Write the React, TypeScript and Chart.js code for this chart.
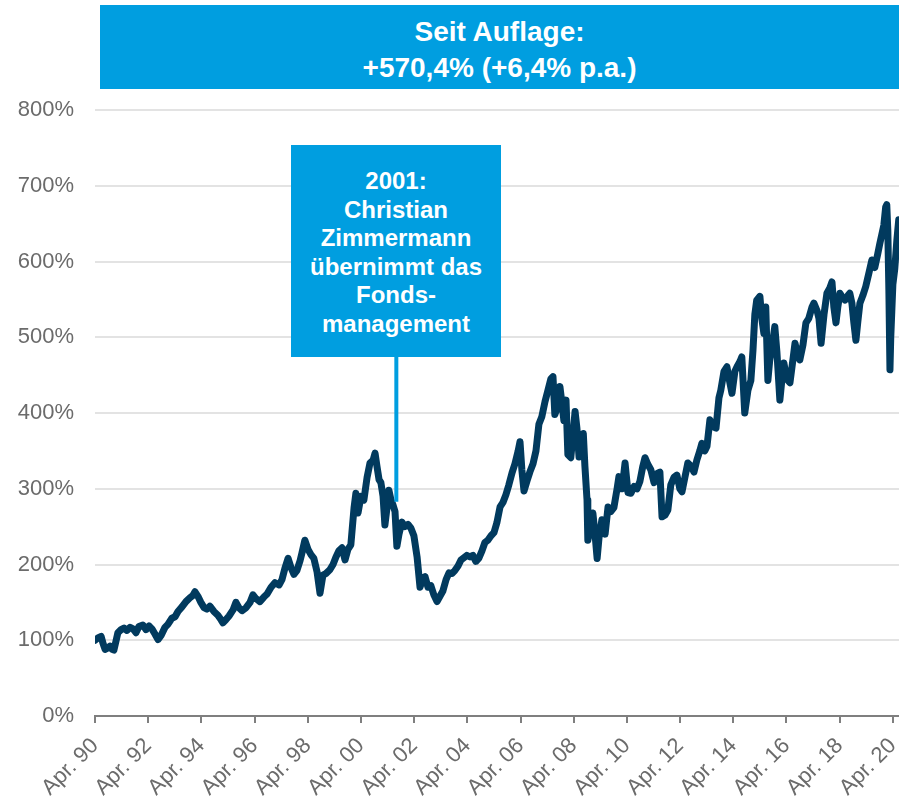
import React, { useEffect, useRef } from "react";
import { Chart, registerables } from "chart.js";

Chart.register(...registerables);

// Fund index (start = 100%), decimal years
const dates: number[] = [
  1990.25, 1990.36, 1990.48, 1990.55, 1990.63, 1990.74, 1990.81, 1990.89, 1990.96, 1991.04,
  1991.11, 1991.23, 1991.34, 1991.45, 1991.57, 1991.68, 1991.79, 1991.90, 1992.05, 1992.17,
  1992.28, 1992.39, 1992.51, 1992.62, 1992.73, 1992.88, 1992.99, 1993.14, 1993.26, 1993.37,
  1993.52, 1993.67, 1993.82, 1993.93, 1994.01, 1994.12, 1994.23, 1994.35, 1994.46, 1994.57,
  1994.72, 1994.87, 1994.99, 1995.06, 1995.17, 1995.29, 1995.44, 1995.55, 1995.66, 1995.78,
  1995.93, 1996.08, 1996.19, 1996.30, 1996.45, 1996.60, 1996.72, 1996.87, 1997.02, 1997.17,
  1997.28, 1997.39, 1997.51, 1997.62, 1997.73, 1997.84, 1997.96, 1998.03, 1998.14, 1998.26,
  1998.37, 1998.48, 1998.60, 1998.71, 1998.82, 1998.93, 1999.08, 1999.20, 1999.31, 1999.42,
  1999.54, 1999.65, 1999.76, 1999.87, 1999.99, 2000.06, 2000.14, 2000.25, 2000.36, 2000.48,
  2000.59, 2000.71, 2000.78, 2000.85, 2000.93, 2001.00, 2001.08, 2001.15, 2001.23, 2001.30,
  2001.38, 2001.45, 2001.53, 2001.60, 2001.68, 2001.79, 2001.90, 2002.02, 2002.13, 2002.24,
  2002.36, 2002.47, 2002.58, 2002.66, 2002.77, 2002.88, 2002.99, 2003.11, 2003.22, 2003.33,
  2003.45, 2003.56, 2003.67, 2003.78, 2003.90, 2004.01, 2004.12, 2004.23, 2004.35, 2004.46,
  2004.57, 2004.68, 2004.80, 2004.91, 2005.02, 2005.14, 2005.25, 2005.36, 2005.48, 2005.59,
  2005.70, 2005.81, 2005.93, 2006.04, 2006.16, 2006.23, 2006.30, 2006.38, 2006.49, 2006.60,
  2006.72, 2006.83, 2006.94, 2007.05, 2007.17, 2007.28, 2007.39, 2007.47, 2007.54, 2007.66,
  2007.73, 2007.81, 2007.88, 2007.96, 2008.03, 2008.14, 2008.22, 2008.30, 2008.37, 2008.45,
  2008.52, 2008.61, 2008.67, 2008.75, 2008.78, 2008.86, 2008.97, 2009.05, 2009.13, 2009.20,
  2009.31, 2009.43, 2009.54, 2009.65, 2009.76, 2009.88, 2009.95, 2010.07, 2010.18, 2010.29,
  2010.40, 2010.52, 2010.63, 2010.74, 2010.85, 2010.93, 2011.04, 2011.15, 2011.27, 2011.38,
  2011.49, 2011.57, 2011.68, 2011.79, 2011.90, 2012.02, 2012.13, 2012.24, 2012.32, 2012.43,
  2012.54, 2012.66, 2012.77, 2012.88, 2012.99, 2013.07, 2013.18, 2013.26, 2013.37, 2013.48,
  2013.60, 2013.71, 2013.78, 2013.90, 2014.01, 2014.12, 2014.20, 2014.31, 2014.39, 2014.50,
  2014.57, 2014.68, 2014.80, 2014.91, 2014.99, 2015.06, 2015.13, 2015.25, 2015.32, 2015.40,
  2015.47, 2015.55, 2015.62, 2015.74, 2015.81, 2015.89, 2016.00, 2016.08, 2016.15, 2016.26,
  2016.38, 2016.49, 2016.57, 2016.68, 2016.75, 2016.87, 2016.98, 2017.09, 2017.21, 2017.28,
  2017.40, 2017.47, 2017.55, 2017.66, 2017.77, 2017.88, 2017.96, 2018.03, 2018.11, 2018.18,
  2018.26, 2018.37, 2018.45, 2018.56, 2018.63, 2018.71, 2018.78, 2018.86, 2018.93, 2019.01,
  2019.12, 2019.23, 2019.35, 2019.46, 2019.57, 2019.68, 2019.76, 2019.83, 2019.91, 2019.98,
  2020.02, 2020.06, 2020.10, 2020.14, 2020.17, 2020.25, 2020.32, 2020.40, 2020.47,
];

const values: number[] = [
  100, 103, 105, 96, 88, 90, 92, 88, 87, 99,
  110, 114, 116, 113, 117, 115, 110, 118, 120, 114,
  119, 115, 108, 101, 106, 117, 121, 129, 131, 138,
  144, 151, 156, 159, 164, 158, 150, 143, 141, 145,
  138, 133, 127, 123, 127, 132, 140, 150, 143, 139,
  143, 150, 160, 155, 151, 157, 161, 170, 176, 173,
  180, 195, 208, 196, 187, 192, 205, 215, 232, 220,
  213, 208, 190, 162, 186, 188, 193, 200, 210, 218,
  222, 206, 220, 226, 275, 294, 268, 290, 285, 315,
  334, 338, 347, 330, 312, 308, 290, 252, 275, 298,
  285, 279, 270, 224, 240, 256, 250, 253, 248, 238,
  210, 170, 182, 184, 170, 172, 160, 151, 158, 165,
  180, 189, 188, 192, 198, 206, 209, 212, 210, 212,
  204, 208, 218, 229, 232, 238, 242, 255, 276, 282,
  292, 305, 321, 333, 350, 362, 325, 297, 310, 322,
  333, 350, 385, 395, 415, 430, 445, 448, 398, 410,
  435, 412, 390, 417, 345, 341, 370, 402, 380, 342,
  360, 373, 330, 285, 232, 245, 268, 240, 208, 235,
  259, 240, 276, 270, 275, 300, 316, 300, 334, 295,
  294, 303, 300, 310, 330, 341, 332, 325, 308, 320,
  322, 263, 265, 272, 305, 315, 318, 300, 296, 315,
  334, 330, 322, 338, 350, 360, 350, 356, 391, 382,
  380, 420, 430, 455, 461, 440, 426, 455, 461, 468,
  474, 400, 430, 443, 483, 530, 549, 554, 525, 505,
  540, 443, 470, 496, 514, 480, 417, 445, 466, 445,
  440, 470, 492, 475, 470, 490, 519, 525, 540, 545,
  535, 525, 492, 530, 558, 565, 573, 540, 519, 540,
  558, 552, 549, 555, 558, 545, 520, 496, 520, 545,
  555, 567, 585, 602, 592, 610, 624, 635, 648, 672,
  675, 640, 560, 457, 500, 570, 590, 628, 655,
];

const tickYears: number[] = [
  1990.25, 1992.25, 1994.25, 1996.25, 1998.25, 2000.25, 2002.25, 2004.25,
  2006.25, 2008.25, 2010.25, 2012.25, 2014.25, 2016.25, 2018.25, 2020.25,
];
const tickLabels: string[] = [
  "Apr. 90", "Apr. 92", "Apr. 94", "Apr. 96", "Apr. 98", "Apr. 00", "Apr. 02", "Apr. 04",
  "Apr. 06", "Apr. 08", "Apr. 10", "Apr. 12", "Apr. 14", "Apr. 16", "Apr. 18", "Apr. 20",
];

const titleLines: string[] = ["Seit Auflage:", "+570,4% (+6,4% p.a.)"];
const noteLines: string[] = ["2001:", "Christian", "Zimmermann", "übernimmt das", "Fonds-", "management"];
const noteYear = 2001.58;
const noteValue = 283;

const FONT = "'Liberation Sans', Arial, Helvetica, sans-serif";
const BLUE = "#009ee0";
const NAVY = "#013a5e";
const NOTE_BOTTOM = 357;

export default function App() {
  const canvasRef = useRef<HTMLCanvasElement | null>(null);

  useEffect(() => {
    if (!canvasRef.current) return;
    const connector = {
      id: "connector",
      afterDatasetsDraw(chart: any) {
        const { ctx, scales } = chart;
        const x = scales.x.getPixelForValue(noteYear);
        const y = scales.y.getPixelForValue(noteValue);
        ctx.save();
        ctx.strokeStyle = BLUE;
        ctx.lineWidth = 4;
        ctx.beginPath();
        ctx.moveTo(x, NOTE_BOTTOM);
        ctx.lineTo(x, y);
        ctx.stroke();
        ctx.restore();
      },
    };
    const chart = new Chart(canvasRef.current, {
      type: "line",
      data: {
        datasets: [
          {
            data: dates.map((d, i) => ({ x: d, y: values[i] })),
            borderColor: NAVY,
            borderWidth: 7,
            pointRadius: 0,
            tension: 0,
            borderJoinStyle: "round",
            borderCapStyle: "round",
            fill: false,
          },
        ],
      },
      options: {
        animation: false,
        responsive: true,
        maintainAspectRatio: false,
        layout: { padding: { top: 110, right: 0, left: 0, bottom: 0 } },
        plugins: { legend: { display: false }, tooltip: { enabled: false } },
        scales: {
          x: {
            type: "linear",
            min: 1990.25,
            max: 2020.48,
            afterBuildTicks: (scale: any) => {
              scale.ticks = tickYears.map((v) => ({ value: v }));
            },
            afterFit: (scale: any) => {
              scale.height = 87;
              scale.paddingLeft = 0;
              scale.paddingRight = 0;
            },
            ticks: {
              autoSkip: false,
              maxRotation: 45,
              minRotation: 45,
              padding: 10,
              color: "#6b6b6b",
              font: { family: FONT, size: 22 },
              callback: (v: any) => {
                const i = tickYears.findIndex((t) => Math.abs(t - Number(v)) < 0.01);
                return i >= 0 ? tickLabels[i] : "";
              },
            },
            grid: {
              drawOnChartArea: false,
              drawTicks: true,
              tickLength: 7,
              color: "#7f7f7f",
              lineWidth: 2,
            },
            border: { display: true, color: "#7f7f7f", width: 2 },
          },
          y: {
            min: 0,
            max: 800,
            afterFit: (scale: any) => {
              scale.width = 95;
              scale.paddingTop = 0;
              scale.paddingBottom = 0;
            },
            ticks: {
              stepSize: 100,
              padding: 21,
              color: "#6b6b6b",
              font: { family: FONT, size: 22 },
              callback: (v: any) => `${v}%`,
            },
            grid: { color: "#e3e3e3", lineWidth: 2, drawTicks: false },
            border: { display: false },
          },
        },
      },
      plugins: [connector],
    });
    return () => chart.destroy();
  }, []);

  return (
    <div style={{ position: "absolute", left: 0, top: 0, width: 899, height: 803, background: "#fff" }}>
      <canvas ref={canvasRef} />
      <div
        style={{
          position: "absolute",
          left: 100,
          top: 5,
          width: 799,
          height: 84,
          boxSizing: "border-box",
          paddingTop: 9,
          background: BLUE,
          color: "#fff",
          fontFamily: FONT,
          fontWeight: "bold",
          fontSize: 28,
          lineHeight: "36px",
          textAlign: "center",
        }}
      >
        {titleLines.map((t) => (
          <div key={t}>{t}</div>
        ))}
      </div>
      <div
        style={{
          position: "absolute",
          left: 291,
          top: 145,
          width: 210,
          height: NOTE_BOTTOM - 145,
          boxSizing: "border-box",
          paddingTop: 22,
          background: BLUE,
          color: "#fff",
          fontFamily: FONT,
          fontWeight: "bold",
          fontSize: 24,
          lineHeight: "28.5px",
          textAlign: "center",
        }}
      >
        {noteLines.map((t) => (
          <div key={t}>{t}</div>
        ))}
      </div>
    </div>
  );
}
